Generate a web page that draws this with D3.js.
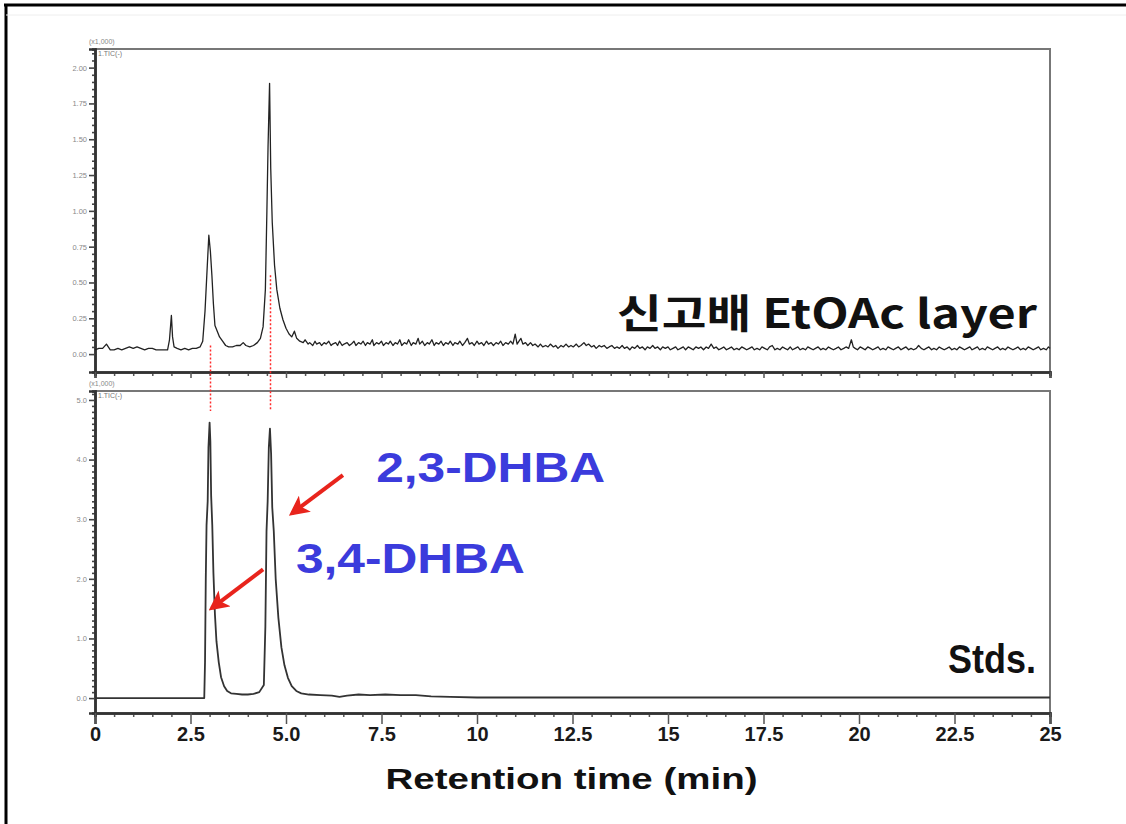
<!DOCTYPE html>
<html><head><meta charset="utf-8">
<script src="https://cdn.jsdelivr.net/npm/d3@7/dist/d3.min.js"></script>
<style>body{margin:0;background:#fff}svg{display:block}</style>
</head><body>
<svg id="c" width="1126" height="824"></svg>
<script>
// ---- data ----
const xTicks = [0, 2.5, 5, 7.5, 10, 12.5, 15, 17.5, 20, 22.5, 25];
const xTickLabels = ["0", "2.5", "5.0", "7.5", "10", "12.5", "15", "17.5", "20", "22.5", "25"];
const topYTicks = [0, 0.25, 0.5, 0.75, 1.0, 1.25, 1.5, 1.75, 2.0];
const topYTickLabels = ["0.00","0.25","0.50","0.75","1.00","1.25","1.50","1.75","2.00"];
const botYTicks = [0, 1, 2, 3, 4, 5];
const botYTickLabels = ["0.0","1.0","2.0","3.0","4.0","5.0"];
const xLabel = "Retention time (min)";
const topTitle = "신고배 EtOAc layer";
const botTitle = "Stds.";
const compounds = ["2,3-DHBA", "3,4-DHBA"];
const peakTimes = [3.0, 4.57];

// sample trace (time, intensity)
const sampleTrace = [
 [0.0,0.03],[0.1,0.04],[0.2,0.04],[0.3,0.07],[0.4,0.03],[0.5,0.03],[0.6,0.04],[0.7,0.03],[0.8,0.04],[0.9,0.05],
 [1.0,0.04],[1.1,0.05],[1.2,0.04],[1.3,0.03],[1.4,0.04],[1.5,0.04],[1.6,0.03],[1.7,0.03],[1.8,0.03],[1.9,0.03],
 [1.95,0.10],[2.0,0.27],[2.03,0.12],[2.07,0.05],[2.15,0.04],[2.25,0.03],[2.35,0.04],[2.45,0.03],[2.55,0.04],[2.65,0.04],
 [2.75,0.05],[2.82,0.09],[2.88,0.30],[2.94,0.62],[2.98,0.83],[3.02,0.72],[3.06,0.55],[3.1,0.35],[3.14,0.20],[3.2,0.16],
 [3.26,0.12],[3.34,0.09],[3.42,0.06],[3.5,0.05],[3.6,0.05],[3.7,0.06],[3.8,0.06],[3.88,0.08],[3.95,0.06],[4.05,0.05],
 [4.15,0.06],[4.25,0.08],[4.33,0.11],[4.4,0.19],[4.46,0.45],[4.5,1.00],[4.53,1.45],[4.57,1.89],[4.6,1.30],[4.64,0.92],
 [4.7,0.62],[4.76,0.45],[4.84,0.32],[4.92,0.24],[5.0,0.18],[5.08,0.14],[5.15,0.12],[5.22,0.16],[5.28,0.11],[5.36,0.09],
 [5.45,0.08],[5.5,0.10],[5.58,0.07],[5.62,0.08],[5.7,0.06],[5.76,0.09],[5.8,0.07],[5.88,0.08],[5.93,0.06],[6.0,0.08],
 [6.05,0.07],[6.12,0.09],[6.18,0.06],[6.22,0.07],[6.3,0.08],[6.35,0.06],[6.4,0.09],[6.47,0.06],[6.52,0.07],[6.6,0.08],
 [6.66,0.06],[6.71,0.07],[6.78,0.09],[6.83,0.06],[6.9,0.08],[6.96,0.07],[7.02,0.09],[7.08,0.06],[7.13,0.08],[7.2,0.07],
 [7.26,0.10],[7.3,0.06],[7.37,0.08],[7.43,0.07],[7.5,0.09],[7.55,0.06],[7.62,0.08],[7.68,0.07],[7.73,0.09],[7.8,0.06],
 [7.86,0.08],[7.92,0.07],[7.98,0.10],[8.03,0.06],[8.1,0.08],[8.16,0.07],[8.21,0.10],[8.28,0.06],[8.33,0.08],[8.4,0.07],
 [8.46,0.11],[8.5,0.07],[8.57,0.09],[8.63,0.06],[8.7,0.08],[8.75,0.07],[8.82,0.10],[8.88,0.06],[8.93,0.08],[9.0,0.07],
 [9.06,0.09],[9.12,0.06],[9.18,0.08],[9.25,0.07],[9.3,0.09],[9.37,0.06],[9.42,0.08],[9.5,0.07],[9.55,0.09],[9.62,0.06],
 [9.68,0.08],[9.75,0.11],[9.8,0.07],[9.87,0.08],[9.93,0.06],[10.0,0.09],[10.05,0.07],[10.12,0.08],[10.18,0.06],[10.25,0.09],
 [10.3,0.07],[10.37,0.08],[10.43,0.06],[10.5,0.08],[10.56,0.07],[10.62,0.09],[10.68,0.06],[10.75,0.08],[10.82,0.07],[10.88,0.09],
 [10.94,0.07],[11.0,0.14],[11.05,0.07],[11.1,0.09],[11.15,0.11],[11.2,0.07],[11.27,0.08],[11.33,0.06],[11.4,0.08],[11.46,0.06],
 [11.52,0.07],[11.6,0.05],[11.66,0.07],[11.72,0.05],[11.8,0.06],[11.86,0.05],[11.92,0.07],[12.0,0.05],[12.06,0.06],[12.12,0.04],
 [12.2,0.06],[12.26,0.05],[12.33,0.07],[12.4,0.05],[12.46,0.06],[12.52,0.05],[12.6,0.07],[12.66,0.05],[12.72,0.06],[12.8,0.08],
 [12.86,0.06],[12.92,0.07],[13.0,0.05],[13.06,0.06],[13.12,0.04],[13.2,0.06],[13.26,0.05],[13.33,0.06],[13.4,0.04],[13.46,0.05],
 [13.53,0.06],[13.6,0.04],[13.66,0.05],[13.73,0.04],[13.8,0.06],[13.86,0.04],[13.93,0.05],[14.0,0.03],[14.06,0.05],[14.13,0.04],
 [14.2,0.06],[14.26,0.04],[14.33,0.05],[14.4,0.03],[14.46,0.05],[14.53,0.04],[14.6,0.06],[14.66,0.04],[14.73,0.05],[14.8,0.03],
 [14.86,0.05],[14.93,0.04],[15.0,0.05],[15.06,0.03],[15.13,0.04],[15.2,0.05],[15.26,0.03],[15.33,0.04],[15.4,0.05],[15.46,0.03],
 [15.53,0.05],[15.6,0.04],[15.66,0.03],[15.73,0.05],[15.8,0.04],[15.86,0.05],[15.93,0.03],[16.0,0.05],[16.06,0.04],[16.13,0.07],
 [16.2,0.04],[16.26,0.05],[16.33,0.03],[16.4,0.04],[16.46,0.05],[16.53,0.03],[16.6,0.04],[16.66,0.05],[16.73,0.03],[16.8,0.04],
 [16.86,0.03],[16.93,0.05],[17.0,0.04],[17.06,0.03],[17.13,0.04],[17.2,0.05],[17.26,0.03],[17.33,0.04],[17.4,0.03],[17.46,0.05],
 [17.53,0.04],[17.6,0.03],[17.66,0.05],[17.73,0.06],[17.8,0.03],[17.86,0.04],[17.93,0.03],[18.0,0.05],[18.06,0.04],[18.13,0.03],
 [18.2,0.05],[18.26,0.03],[18.33,0.04],[18.4,0.05],[18.46,0.03],[18.53,0.04],[18.6,0.03],[18.66,0.05],[18.73,0.04],[18.8,0.03],
 [18.86,0.04],[18.93,0.05],[19.0,0.03],[19.06,0.04],[19.13,0.03],[19.2,0.05],[19.26,0.04],[19.33,0.03],[19.4,0.04],[19.46,0.05],
 [19.53,0.03],[19.6,0.04],[19.66,0.05],[19.73,0.04],[19.8,0.10],[19.85,0.05],[19.9,0.04],[19.96,0.03],[20.03,0.05],[20.1,0.04],
 [20.16,0.03],[20.23,0.05],[20.3,0.04],[20.36,0.03],[20.43,0.04],[20.5,0.05],[20.56,0.03],[20.63,0.04],[20.7,0.03],[20.76,0.05],
 [20.83,0.04],[20.9,0.03],[20.96,0.04],[21.03,0.05],[21.1,0.03],[21.16,0.04],[21.23,0.05],[21.3,0.03],[21.36,0.04],[21.43,0.03],
 [21.5,0.04],[21.56,0.06],[21.63,0.04],[21.7,0.03],[21.76,0.04],[21.83,0.05],[21.9,0.03],[21.96,0.04],[22.03,0.03],[22.1,0.05],
 [22.16,0.04],[22.23,0.03],[22.3,0.04],[22.36,0.05],[22.43,0.03],[22.5,0.04],[22.56,0.03],[22.63,0.05],[22.7,0.04],[22.76,0.03],
 [22.83,0.04],[22.9,0.05],[22.96,0.03],[23.03,0.04],[23.1,0.05],[23.16,0.03],[23.23,0.04],[23.3,0.03],[23.36,0.05],[23.43,0.04],
 [23.5,0.03],[23.56,0.04],[23.63,0.05],[23.7,0.03],[23.76,0.04],[23.83,0.03],[23.9,0.05],[23.96,0.04],[24.03,0.03],[24.1,0.04],
 [24.16,0.05],[24.23,0.03],[24.3,0.04],[24.36,0.03],[24.43,0.05],[24.5,0.04],[24.56,0.03],[24.63,0.04],[24.7,0.05],[24.76,0.03],
 [24.83,0.04],[24.9,0.03],[24.96,0.05],[25.0,0.04]
];

// standards trace
const stdTrace = [
 [0.0,0.0],[1.0,0.0],[2.0,0.0],[2.86,0.0],[2.88,0.6],[2.9,2.0],[2.92,2.9],[2.95,3.3],[2.97,4.2],[3.0,4.62],
 [3.02,4.3],[3.04,3.4],[3.07,2.9],[3.1,2.1],[3.14,1.4],[3.18,0.95],[3.24,0.6],[3.3,0.35],[3.38,0.2],[3.46,0.12],
 [3.56,0.08],[3.7,0.07],[3.85,0.06],[4.0,0.06],[4.15,0.07],[4.3,0.1],[4.42,0.22],[4.46,1.2],[4.49,2.8],[4.52,3.3],
 [4.55,4.2],[4.58,4.52],[4.61,4.1],[4.64,3.2],[4.68,2.8],[4.73,2.0],[4.8,1.35],[4.88,0.85],[4.96,0.55],[5.05,0.34],
 [5.15,0.2],[5.27,0.12],[5.4,0.08],[5.6,0.06],[5.9,0.05],[6.2,0.04],[6.4,0.02],[6.6,0.04],[6.9,0.06],[7.2,0.05],
 [7.6,0.06],[8.0,0.05],[8.4,0.05],[8.8,0.03],[9.3,0.02],[10.0,0.01],[12.0,0.01],[15.0,0.01],[20.0,0.01],[25.0,0.01]
];

// annotation anchors in data units (time, intensity) on the standards panel
const arrowTails = [[6.49, 3.74], [4.40, 2.16]];
const arrowTips  = [[5.16, 3.10], [3.06, 1.51]];
const labelAnchors = [[7.36, 3.62], [5.26, 2.10]];

// ---- drawing ----
const svg = d3.select("#c");
svg.append("rect").attr("width",1126).attr("height",824).attr("fill","#fff");
svg.append("line").attr("x1",4).attr("x2",1126).attr("y1",5).attr("y2",5).attr("stroke","#000").attr("stroke-width",3);
svg.append("line").attr("x1",6).attr("x2",6).attr("y1",4).attr("y2",824).attr("stroke","#000").attr("stroke-width",3);
svg.append("line").attr("x1",6).attr("x2",1126).attr("y1",15).attr("y2",15).attr("stroke","#eee").attr("stroke-width",1);

const x = d3.scaleLinear().domain([0,25]).range([95,1050]);
const yTop = d3.scaleLinear().domain([-0.125,2.13]).range([372,49]);
const yBot = d3.scaleLinear().domain([-0.25,5.15]).range([713,391]);

function frame(y){
  const [y0,y1] = y.range();
  svg.append("path").attr("d",`M${x(0)},${y1}H${x(25)}V${y0}`).attr("fill","none").attr("stroke","#777").attr("stroke-width",2);
}
frame(yTop); frame(yBot);

function d3range(a,b,s){ const r=[]; for(let v=a; v<=b+1e-9; v+=s) r.push(+v.toFixed(4)); return r; }

function yAxis(y, ticks, labels, minorStep){
  const g = svg.append("g").attr("transform",`translate(${x(0)},0)`);
  const dom = y.domain();
  const minor = d3range(0, dom[1], minorStep).filter(v=>!ticks.some(t=>Math.abs(t-v)<1e-6));
  g.call(d3.axisLeft(y).tickValues(minor).tickSize(3).tickFormat(""));
  const g2 = svg.append("g").attr("transform",`translate(${x(0)},0)`);
  g2.call(d3.axisLeft(y).tickValues(ticks).tickSize(6).tickPadding(2).tickFormat((d,i)=>labels[i]));
  [g,g2].forEach(gg=>{
    gg.select(".domain").attr("stroke","#333").attr("stroke-width",2.5);
    gg.selectAll(".tick line").attr("stroke","#444").attr("stroke-width",1.6);
    gg.selectAll("text").attr("font-family","Liberation Sans, Arial, sans-serif").attr("font-size",7.5).attr("fill","#888");
  });
}
yAxis(yTop, topYTicks, topYTickLabels, 0.05);
yAxis(yBot, botYTicks, botYTickLabels, 0.1);

function xAxis(y, withLabels){
  const y0 = y.range()[0];
  const minor = d3range(0,25,0.5).filter(v=>!xTicks.includes(v));
  const gm = svg.append("g").attr("transform",`translate(0,${y0})`)
    .call(d3.axisBottom(x).tickValues(minor).tickSize(4).tickFormat(""));
  const g = svg.append("g").attr("transform",`translate(0,${y0})`)
    .call(d3.axisBottom(x).tickValues(xTicks).tickSize(withLabels?11:6).tickPadding(withLabels? -2 : 2)
      .tickFormat((d,i)=> withLabels ? xTickLabels[i] : ""));
  [gm,g].forEach(gg=>{
    gg.select(".domain").attr("stroke","#333").attr("stroke-width",2.5);
    gg.selectAll(".tick line").attr("stroke","#555").attr("stroke-width",1.5);
  });
  g.selectAll("text").attr("font-family","Liberation Sans, Arial, sans-serif").attr("font-weight","bold")
    .attr("font-size",20).attr("fill","#1a1a1a").attr("dy","0.95em");
  g.selectAll(".tick line").raise();
}
xAxis(yTop,false);
xAxis(yBot,true);

[yTop, yBot].forEach(y=>{
  const y1 = y.range()[1];
  svg.append("text").attr("x",x(0)-6).attr("y",y1-5).text("(x1,000)")
    .attr("font-family","Liberation Sans, Arial, sans-serif").attr("font-size",7).attr("fill","#888");
  svg.append("text").attr("x",x(0)+3).attr("y",y1+7).text("1.TIC(-)")
    .attr("font-family","Liberation Sans, Arial, sans-serif").attr("font-size",7).attr("fill","#777");
});

// red dotted guide lines
peakTimes.forEach((t,i)=>{
  const yStart = i===0 ? yTop(0.06) : yTop(0.55);
  svg.append("line").attr("x1",Math.round(x(t))+0.5).attr("x2",Math.round(x(t))+0.5).attr("y1",yStart).attr("y2",yBot(5.15)+20)
    .attr("stroke","#ff2a2a").attr("stroke-width",1.5).attr("stroke-dasharray","2,2");
});

// traces
const lineTop = d3.line().x(d=>x(d[0])).y(d=>yTop(d[1]));
const lineBot = d3.line().x(d=>x(d[0])).y(d=>yBot(d[1]));
svg.append("path").datum(sampleTrace).attr("d",lineTop).attr("fill","none").attr("stroke","#222").attr("stroke-width",1.3).attr("stroke-linejoin","round");
svg.append("path").datum(stdTrace).attr("d",lineBot).attr("fill","none").attr("stroke","#333").attr("stroke-width",1.8).attr("stroke-linejoin","round");

// titles
svg.append("text").attr("x",x(25)-13).attr("y",yTop(0.18)).attr("text-anchor","end").text(topTitle)
  .attr("font-family","Noto Sans CJK KR, sans-serif").attr("font-weight","bold").attr("font-size",40).attr("fill","#111")
  .attr("textLength",420).attr("lengthAdjust","spacingAndGlyphs");
svg.append("text").attr("x",x(25)-14).attr("y",yBot(0.42)).attr("text-anchor","end").text(botTitle)
  .attr("font-family","Liberation Sans, Arial, sans-serif").attr("font-weight","bold").attr("font-size",40).attr("fill","#111")
  .attr("textLength",88).attr("lengthAdjust","spacingAndGlyphs");

// arrows
const defs = svg.append("defs");
defs.append("marker").attr("id","ah").attr("viewBox","0 0 10 10").attr("refX",8).attr("refY",5)
  .attr("markerWidth",5).attr("markerHeight",5).attr("orient","auto")
  .append("path").attr("d","M0,0L10,5L0,10L2.5,5Z").attr("fill","#e8241c");
arrowTails.forEach((tl,i)=>{
  const tp = arrowTips[i];
  svg.append("line").attr("x1",x(tl[0])).attr("y1",yBot(tl[1])).attr("x2",x(tp[0])).attr("y2",yBot(tp[1]))
    .attr("stroke","#e8241c").attr("stroke-width",4).attr("marker-end","url(#ah)");
});
compounds.forEach((c,i)=>{
  svg.append("text").attr("x",x(labelAnchors[i][0])).attr("y",yBot(labelAnchors[i][1])).text(c)
    .attr("font-family","Liberation Sans, Arial, sans-serif").attr("font-weight","bold").attr("font-size",42)
    .attr("fill","#3b3bdc").attr("textLength",229).attr("lengthAdjust","spacingAndGlyphs");
});

// x label
svg.append("text").attr("x",x(12.5)-1).attr("y",789).attr("text-anchor","middle").text(xLabel)
  .attr("font-family","Liberation Sans, Arial, sans-serif").attr("font-weight","bold").attr("font-size",30).attr("fill","#111")
  .attr("textLength",372).attr("lengthAdjust","spacingAndGlyphs");
</script>
</body></html>
